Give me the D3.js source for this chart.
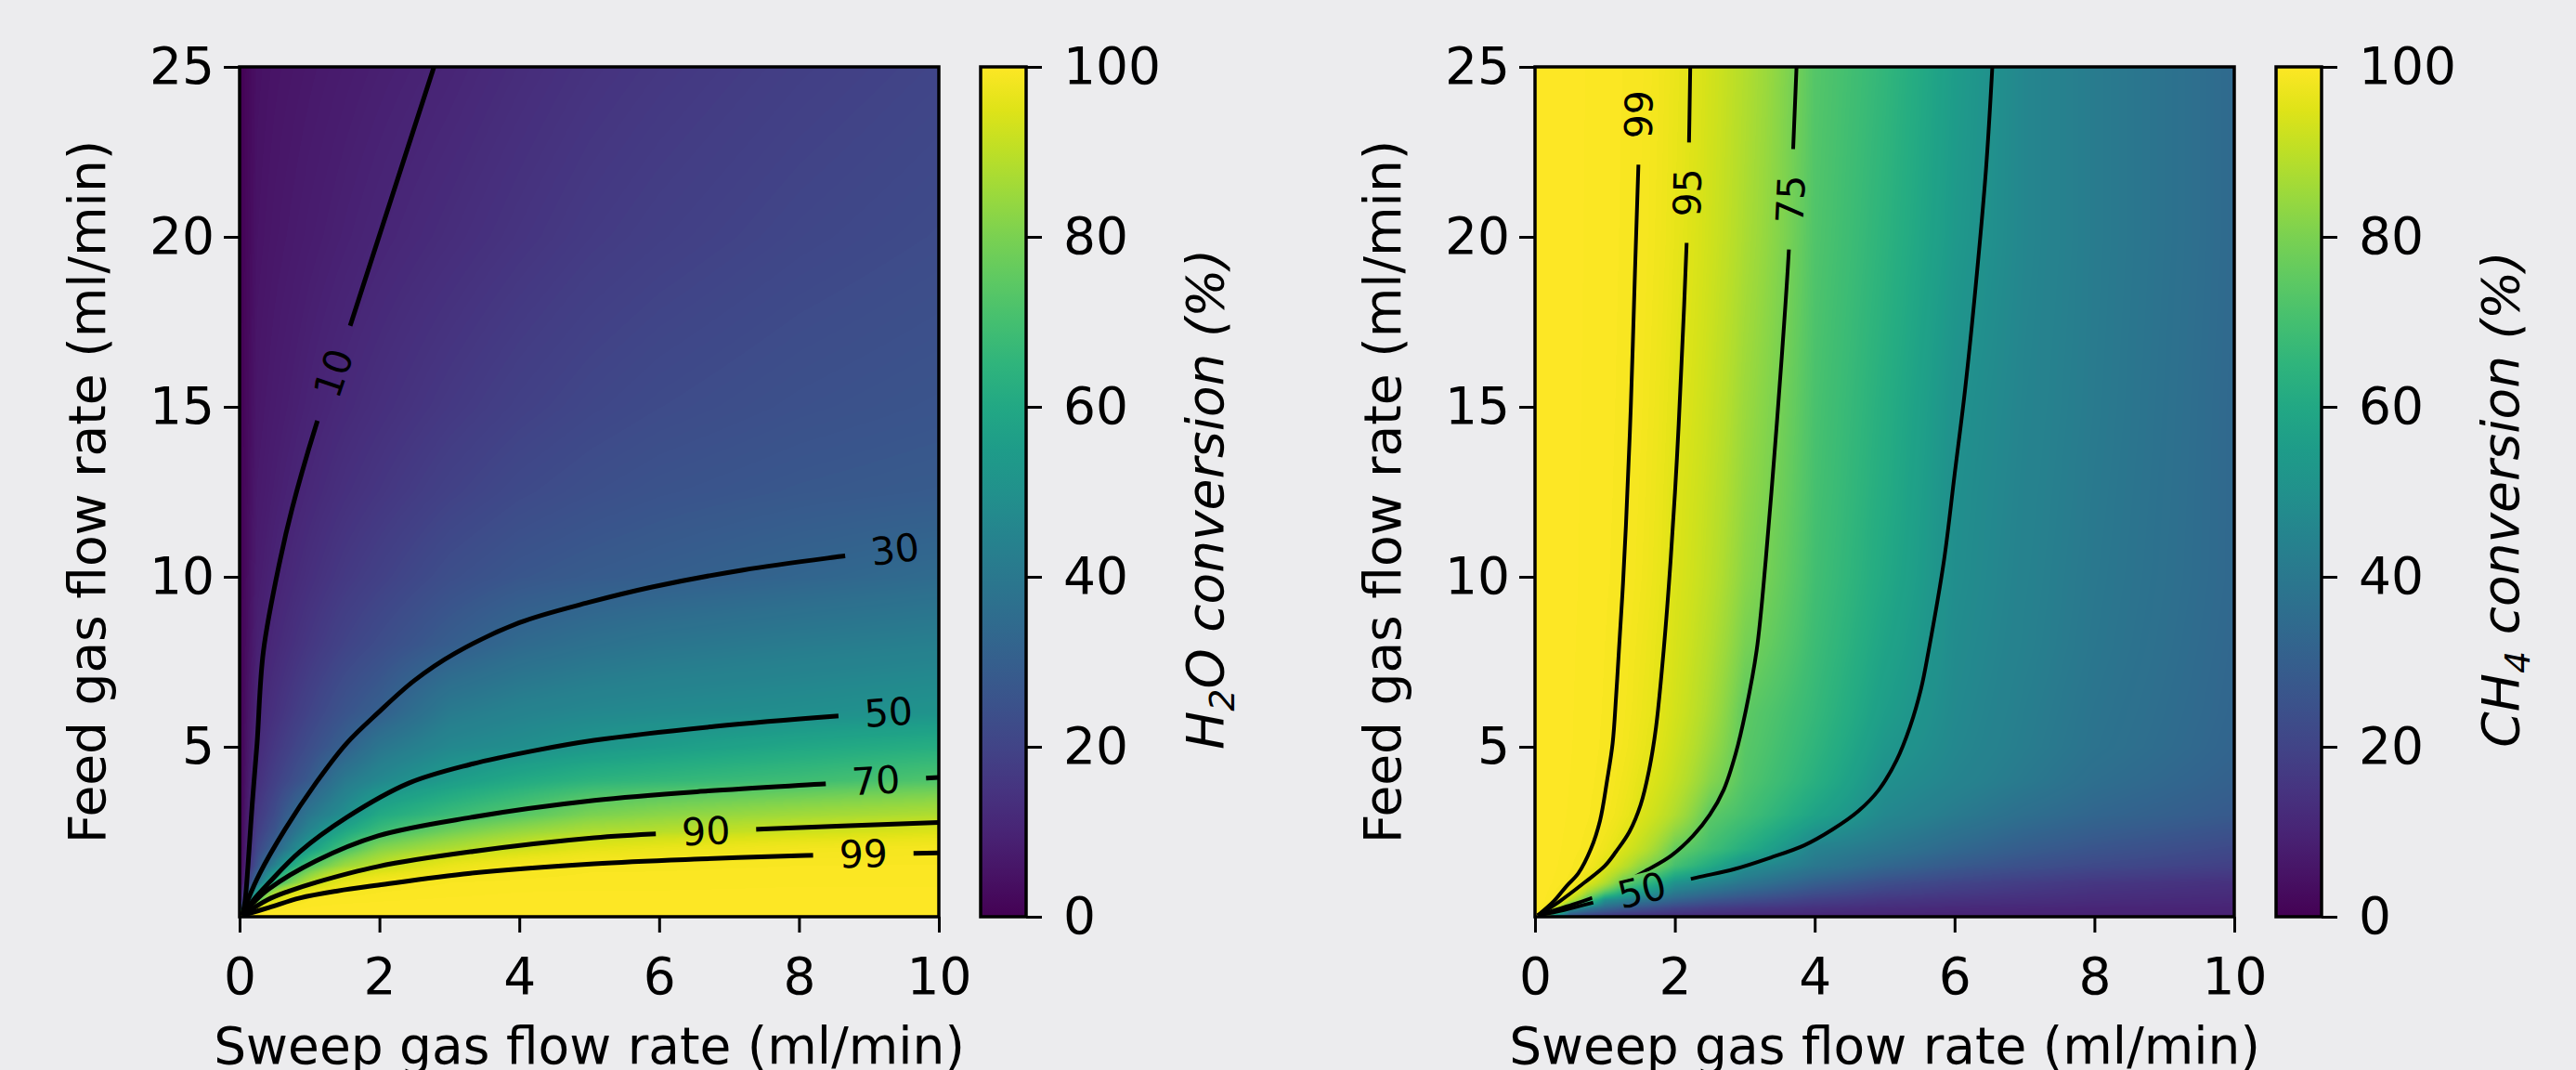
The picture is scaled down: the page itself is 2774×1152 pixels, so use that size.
<!DOCTYPE html>
<html>
<head>
<meta charset="utf-8">
<title>H2O / CH4 conversion maps</title>
<script src="https://d3js.org/d3.v7.min.js"></script>
<style>
body { margin:0; background:#ececee; }
text { font-family:'DejaVu Sans', sans-serif; }
</style>
</head>
<body>
<svg id="fig" width="2774" height="1152"></svg>
<script>
// ---------- values ----------
var sweepTicks = [0, 2, 4, 6, 8, 10];
var feedTicks = [5, 10, 15, 20, 25];
var conversionTicks = [0, 20, 40, 60, 80, 100];

// H2O conversion (%), one list per sweep flow, running along feed flow
var h2oSweep = [0, 0.25, 0.5, 1, 1.5, 2, 3, 4, 5, 6, 8, 10];
var h2oFeed = [0, 0.25, 0.5, 1, 1.5, 2, 2.5, 3, 4, 5, 6, 8, 10, 12.5, 15, 20, 25];
var h2oBySweep = [
  [100, 0, 0, 0, 0, 0, 0, 0, 0, 0, 0, 0, 0, 0, 0, 0, 0],
  [100, 95.0, 67.2, 35.6, 25, 20.9, 18.2, 16.3, 13.6, 11.9, 10.6, 8.8, 7.7, 6.7, 6.0, 5.0, 4.4],
  [100, 99.3, 93.6, 64.4, 43.5, 30.9, 25.9, 22.8, 18.7, 16.0, 14.0, 11.5, 9.85, 8.4, 7.4, 6.1, 5.2],
  [100, 99.7, 99.25, 89.0, 71.6, 54.9, 45.6, 39.3, 27.9, 23.3, 20.1, 16.0, 13.4, 11.2, 9.67, 7.7, 6.4],
  [100, 99.8, 99.5, 96.5, 85.1, 69.7, 59.7, 49.1, 40.4, 30.3, 25.8, 20.1, 16.6, 13.7, 11.7, 9.1, 7.5],
  [100, 99.8, 99.6, 98.6, 89.9, 81.3, 68.4, 60.3, 46.5, 38.8, 30, 23.3, 19.1, 15.7, 13.4, 10.4, 8.5],
  [100, 99.9, 99.7, 99.25, 96.6, 87.6, 78.4, 67.9, 54.7, 46.4, 41.0, 29.1, 23.8, 19.4, 16.5, 12.7, 10.3],
  [100, 99.9, 99.8, 99.4, 98.45, 91.9, 84.25, 73.5, 60.5, 49.0, 44.4, 34.05, 26.7, 22.2, 19.1, 15.0, 12.5],
  [100, 99.9, 99.8, 99.5, 99.05, 95.7, 87.75, 79.8, 64.3, 52.4, 46.45, 36.9, 28.4, 24.1, 21.1, 17.1, 14.5],
  [100, 99.9, 99.8, 99.5, 99.1, 96.7, 89.1, 82.35, 66.05, 55.05, 47.6, 38.95, 29.6, 25.5, 22.6, 18.6, 16],
  [100, 99.9, 99.8, 99.6, 99.25, 98.06, 92.3, 85.7, 68.8, 59.3, 49.2, 41.3, 32.2, 27.2, 24.6, 21.0, 18.5],
  [100, 99.9, 99.8, 99.6, 99.3, 98.55, 94.7, 87.9, 72.35, 62.2, 51.3, 43.0, 34.6, 28.3, 26.0, 22.8, 20.5]
];
var h2oLevels = [10, 30, 50, 70, 90, 99];
var h2oLines = [
  [[0.04,0.04],[0.08,0.5],[0.12,1.5],[0.18,3.3],[0.25,5.1],[0.34,7.8],[0.58,10.5],[0.75,12],[1.1,14.5],[1.6,17.5],[2.15,21],[2.78,25]],
  [[0.04,0.04],[0.12,0.5],[0.29,1.28],[0.65,2.57],[1.09,3.93],[1.53,5.1],[1.98,6.0],[2.5,6.95],[3.08,7.75],[4.0,8.65],[5.0,9.25],[5.9,9.7],[7.2,10.2],[8.6,10.6],[10,10.95]],
  [[0.04,0.04],[0.2,0.5],[0.42,1.0],[0.86,1.91],[1.53,2.92],[2.42,3.93],[3.3,4.48],[4.2,4.88],[5.07,5.19],[6.8,5.6],[8.53,5.9],[10,6.1]],
  [[0.04,0.04],[0.2,0.42],[0.42,0.82],[1.09,1.64],[1.98,2.38],[3.3,2.92],[5.07,3.42],[6.7,3.7],[8.3,3.9],[10,4.1]],
  [[0.04,0.04],[0.4,0.5],[0.7,0.75],[1.09,1.01],[1.98,1.48],[3.3,1.91],[5.07,2.32],[6.3,2.47],[7.5,2.58],[10,2.77]],
  [[0.04,0.04],[0.42,0.27],[0.86,0.55],[1.4,0.76],[1.98,0.93],[3.3,1.28],[5.07,1.56],[6.6,1.7],[8.1,1.8],[10,1.88]]
];
var h2oLabelAt = [[1.33,16.0],[9.37,10.85],[9.28,6.05],[9.1,4.0],[6.67,2.5],[8.92,1.83]];

// CH4 conversion (%), one list per feed flow, running along sweep flow
var ch4Sweep = [0, 0.25, 0.5, 0.75, 1, 1.25, 1.5, 2, 2.5, 3, 4, 5, 6, 7, 8, 10];
var ch4Feed = [0, 0.25, 0.5, 1, 1.5, 2, 3, 4, 5, 6, 8, 10, 12.5, 15, 20, 25];
var ch4ByFeed = [
  [100, 30, 20, 16, 14, 13, 12.5, 12, 11.5, 11, 10.5, 10, 10, 9.5, 9.5, 9],
  [100, 91.9, 50, 40, 33, 28, 25, 20, 17.5, 16, 14, 12.5, 11.5, 11, 10.5, 10],
  [100, 99.25, 91.05, 73.1, 50, 45, 40, 32, 27, 24, 19, 16, 14.5, 13.5, 12.5, 11.5],
  [100, 99.64, 99.03, 94.4, 88.3, 76.4, 69.1, 50.9, 45, 39, 30, 24, 20.5, 18, 16, 14],
  [100, 99.75, 99.36, 98.38, 94.6, 90.5, 83.5, 70.3, 60.8, 49.4, 40, 33, 28, 24.5, 22, 19],
  [100, 99.79, 99.48, 99.04, 97.4, 94.26, 90.7, 76.3, 69.4, 62.1, 44, 39, 33.5, 29, 26, 22],
  [100, 99.83, 99.6, 99.3, 98.75, 97.2, 94.6, 87.9, 74.7, 70.0, 57.8, 46.5, 41, 36, 32.5, 28],
  [100, 99.85, 99.64, 99.38, 99.03, 97.94, 95.9, 90.9, 81.9, 72.9, 63.05, 49.9, 45, 40.5, 36, 30.5],
  [100, 99.86, 99.68, 99.44, 99.14, 98.41, 96.9, 92.3, 84.9, 74.1, 65.1, 53.1, 46.5, 42, 38, 32],
  [100, 99.86, 99.69, 99.47, 99.19, 98.62, 97.35, 93.2, 86.8, 75, 66.6, 55.4, 47.2, 42.5, 38.5, 32.5],
  [100, 99.87, 99.71, 99.51, 99.25, 98.84, 97.74, 93.9, 88.7, 79.5, 68.4, 58.1, 48.2, 43.5, 39.5, 33],
  [100, 99.88, 99.73, 99.55, 99.32, 99.04, 98.17, 94.55, 90.1, 82.3, 69.7, 60.1, 49.1, 44, 40, 33.5],
  [100, 99.89, 99.74, 99.57, 99.36, 99.1, 98.39, 94.9, 90.8, 83.8, 70.5, 61.3, 49.7, 44.5, 40.5, 33.5],
  [100, 99.89, 99.75, 99.59, 99.39, 99.14, 98.58, 95.5, 91.5, 85.0, 71.1, 62.2, 50.65, 45, 41, 33.5],
  [100, 99.89, 99.77, 99.61, 99.43, 99.2, 98.83, 96.4, 92.7, 87.3, 72.5, 64.3, 53.7, 46, 41.5, 34],
  [100, 99.9, 99.78, 99.63, 99.46, 99.25, 99, 96.8, 93.2, 88.4, 73.3, 65.8, 55, 46, 41.5, 34]
];
var ch4Levels = [99, 95, 75, 50];
var ch4Lines = [
  [[0.04,0.04],[0.27,0.46],[0.45,0.9],[0.62,1.28],[0.8,2],[0.93,2.83],[1.03,4],[1.11,5.1],[1.16,6.5],[1.2,7.84],[1.25,9.5],[1.3,11.5],[1.37,15],[1.43,19],[1.48,22.2],[1.5,25]],
  [[0.04,0.04],[0.35,0.45],[0.71,1.01],[1.0,1.5],[1.16,1.92],[1.35,2.5],[1.51,3.29],[1.63,4.3],[1.73,5.57],[1.84,7.84],[1.94,10.5],[2.03,13.5],[2.1,16.5],[2.17,19.9],[2.2,22.5],[2.22,25]],
  [[0.04,0.04],[0.45,0.3],[0.93,0.65],[1.6,1.37],[1.95,1.8],[2.26,2.38],[2.5,3.0],[2.7,3.74],[2.87,4.8],[3.01,6.02],[3.17,7.84],[3.3,10.5],[3.42,13.5],[3.53,16.5],[3.63,19.6],[3.69,22.5],[3.74,25]],
  [[0.04,0.04],[0.4,0.19],[0.76,0.38],[1.53,0.77],[2.31,1.15],[2.85,1.4],[3.37,1.74],[3.85,2.1],[4.25,2.56],[4.62,3.1],[4.92,3.74],[5.17,4.6],[5.36,5.57],[5.52,6.7],[5.63,7.84],[5.85,10.5],[6.0,13],[6.15,15.5],[6.3,18.5],[6.45,22],[6.54,25]]
];
var ch4LabelAt = [[1.49,23.6],[2.21,21.3],[3.71,21.1],[1.53,0.77]];

// ---------- layout ----------
var W = 2774, H = 1152;
var plotTop = 72, plotW = 753, plotH = 915;
var fontSize = 55;

var svg = d3.select("#fig");
svg.append("rect").attr("width", W).attr("height", H).attr("fill", "#ececee");
var defs = svg.append("defs");

var viridisLut = d3.range(1001).map(function(i) { return d3.rgb(d3.interpolateViridis(i / 1000)); });

// stretch values near 100 so the shading between grid points stays smooth
function tf(v) { return -Math.log(100.5 - Math.min(100, Math.max(0, v))); }
function untf(t) { return 100.5 - Math.exp(-t); }

function locate(arr, v) {
  var i = d3.bisectRight(arr, v) - 1;
  i = Math.max(0, Math.min(arr.length - 2, i));
  var f = (v - arr[i]) / (arr[i + 1] - arr[i]);
  return [i, Math.max(0, Math.min(1, f))];
}

function heatImage(xs, ys, rows, x, y) {
  var T = rows.map(function(r) { return r.map(tf); });
  var canvas = document.createElement("canvas");
  canvas.width = plotW; canvas.height = plotH;
  var ctx = canvas.getContext("2d");
  var img = ctx.createImageData(plotW, plotH);
  var cols = d3.range(plotW).map(function(px) { return locate(xs, x.invert(px + 0.5)); });
  for (var py = 0; py < plotH; py++) {
    var ry = locate(ys, y.invert(py + 0.5)), j = ry[0], fy = ry[1];
    var r0 = T[j], r1 = T[j + 1];
    for (var px = 0; px < plotW; px++) {
      var i = cols[px][0], fx = cols[px][1];
      var t = (r0[i] * (1 - fx) + r0[i + 1] * fx) * (1 - fy) + (r1[i] * (1 - fx) + r1[i + 1] * fx) * fy;
      var v = Math.max(0, Math.min(100, untf(t)));
      var c = viridisLut[Math.round(v * 10)];
      var k = 4 * (py * plotW + px);
      img.data[k] = c.r; img.data[k + 1] = c.g; img.data[k + 2] = c.b; img.data[k + 3] = 255;
    }
  }
  ctx.putImageData(img, 0, 0);
  return canvas.toDataURL();
}

function styleAxis(sel) {
  sel.attr("font-size", fontSize).attr("font-family", "DejaVu Sans");
  sel.select(".domain").remove();
  sel.selectAll(".tick line").attr("stroke", "#000").attr("stroke-width", 3);
  sel.selectAll(".tick text").attr("fill", "#000");
}

var panels = [
  { ox: 258, xs: h2oSweep, ys: h2oFeed, rows: d3.transpose(h2oBySweep), levels: h2oLevels,
    lines: h2oLines, labelAt: h2oLabelAt, name: ["H", "2", "O conversion (%)"], lw: 5 },
  { ox: 1653, xs: ch4Sweep, ys: ch4Feed, rows: ch4ByFeed, levels: ch4Levels,
    lines: ch4Lines, labelAt: ch4LabelAt, name: ["CH", "4", " conversion (%)"], lw: 4 }
];

panels.forEach(function(p, k) {
  var g = svg.append("g").attr("transform", "translate(" + p.ox + "," + plotTop + ")");
  var x = d3.scaleLinear().domain([0, 10]).range([0, plotW]);
  var y = d3.scaleLinear().domain([0, 25]).range([plotH, 0]);

  g.append("image").attr("width", plotW).attr("height", plotH)
    .attr("preserveAspectRatio", "none")
    .attr("href", heatImage(p.xs, p.ys, p.rows, x, y));

  // contour lines with gaps under their labels
  defs.append("clipPath").attr("id", "clip" + k)
    .append("rect").attr("width", plotW).attr("height", plotH);
  var mask = defs.append("mask").attr("id", "mask" + k).attr("maskUnits", "userSpaceOnUse")
    .attr("x", -20).attr("y", -20).attr("width", plotW + 40).attr("height", plotH + 40);
  mask.append("rect").attr("x", -20).attr("y", -20)
    .attr("width", plotW + 40).attr("height", plotH + 40).attr("fill", "#fff");

  var line = d3.line().x(function(d) { return x(d[0]); }).y(function(d) { return y(d[1]); })
    .curve(d3.curveCatmullRom.alpha(0.5));
  g.append("g").attr("clip-path", "url(#clip" + k + ")")
    .append("g").attr("mask", "url(#mask" + k + ")")
    .selectAll("path").data(p.lines).join("path")
      .attr("d", line).attr("fill", "none").attr("stroke", "#000")
      .attr("stroke-width", p.lw).attr("stroke-linejoin", "round");

  var labelSize = 41, pad = 28;
  p.labelAt.forEach(function(at, i) {
    var pts = p.lines[i].map(function(d) { return [x(d[0]), y(d[1])]; });
    var P = [x(at[0]), y(at[1])], best = null;
    for (var s = 0; s < pts.length - 1; s++) {
      var a = pts[s], b = pts[s + 1], dx = b[0] - a[0], dy = b[1] - a[1];
      var t = ((P[0] - a[0]) * dx + (P[1] - a[1]) * dy) / (dx * dx + dy * dy);
      t = Math.max(0, Math.min(1, t));
      var q = [a[0] + t * dx, a[1] + t * dy];
      var d2 = (q[0] - P[0]) * (q[0] - P[0]) + (q[1] - P[1]) * (q[1] - P[1]);
      if (!best || d2 < best.d2) best = { d2: d2, q: q, ang: Math.atan2(dy, dx) * 180 / Math.PI };
    }
    var ang = best.ang;
    if (ang > 90) ang -= 180;
    if (ang < -90) ang += 180;
    var txt = String(p.levels[i]);
    var wTxt = txt.length * 0.636 * labelSize;
    var tr = "translate(" + best.q[0] + "," + best.q[1] + ") rotate(" + ang + ")";
    mask.append("rect").attr("transform", tr)
      .attr("x", -wTxt / 2 - pad).attr("y", -labelSize * 0.45)
      .attr("width", wTxt + 2 * pad).attr("height", labelSize * 0.9).attr("fill", "#000");
    g.append("text").attr("transform", tr)
      .attr("text-anchor", "middle").attr("dominant-baseline", "central")
      .attr("font-size", labelSize).attr("fill", "#000").text(txt);
  });

  // frame and axes
  g.append("rect").attr("width", plotW).attr("height", plotH)
    .attr("fill", "none").attr("stroke", "#000").attr("stroke-width", 3.5);
  g.append("g").attr("transform", "translate(0," + plotH + ")")
    .call(d3.axisBottom(x).tickValues(sweepTicks).tickSize(17).tickPadding(27))
    .call(styleAxis);
  g.append("g")
    .call(d3.axisLeft(y).tickValues(feedTicks).tickSize(17).tickPadding(10))
    .call(styleAxis);

  g.append("text").attr("x", plotW / 2).attr("y", 1145 - plotTop)
    .attr("text-anchor", "middle").attr("font-size", fontSize).attr("fill", "#000")
    .text("Sweep gas flow rate (ml/min)");
  g.append("text").attr("transform", "translate(-145," + plotH / 2 + ") rotate(-90)")
    .attr("text-anchor", "middle").attr("font-size", fontSize).attr("fill", "#000")
    .text("Feed gas flow rate (ml/min)");

  // colour bar
  var grad = defs.append("linearGradient").attr("id", "grad" + k)
    .attr("x1", 0).attr("y1", 1).attr("x2", 0).attr("y2", 0);
  grad.selectAll("stop").data(d3.range(0, 1.0001, 0.05)).join("stop")
    .attr("offset", function(d) { return d; })
    .attr("stop-color", function(d) { return d3.interpolateViridis(d); });
  var cb = g.append("g").attr("transform", "translate(798,0)");
  var cy = d3.scaleLinear().domain([0, 100]).range([plotH, 0]);
  cb.append("rect").attr("width", 49).attr("height", plotH).attr("fill", "url(#grad" + k + ")");
  cb.append("rect").attr("width", 49).attr("height", plotH)
    .attr("fill", "none").attr("stroke", "#000").attr("stroke-width", 3.5);
  cb.append("g").attr("transform", "translate(49,0)")
    .call(d3.axisRight(cy).tickValues(conversionTicks).tickSize(17).tickPadding(23))
    .call(styleAxis);

  var lab = g.append("text").attr("transform", "translate(1059," + (plotH / 2 + 8) + ") rotate(-90)")
    .attr("text-anchor", "middle").attr("font-size", fontSize).attr("font-style", "italic")
    .attr("fill", "#000");
  lab.append("tspan").text(p.name[0]);
  lab.append("tspan").attr("font-size", 38).attr("dy", 12).text(p.name[1]);
  lab.append("tspan").attr("dy", -12).text(p.name[2]);
});
</script>
</body>
</html>
